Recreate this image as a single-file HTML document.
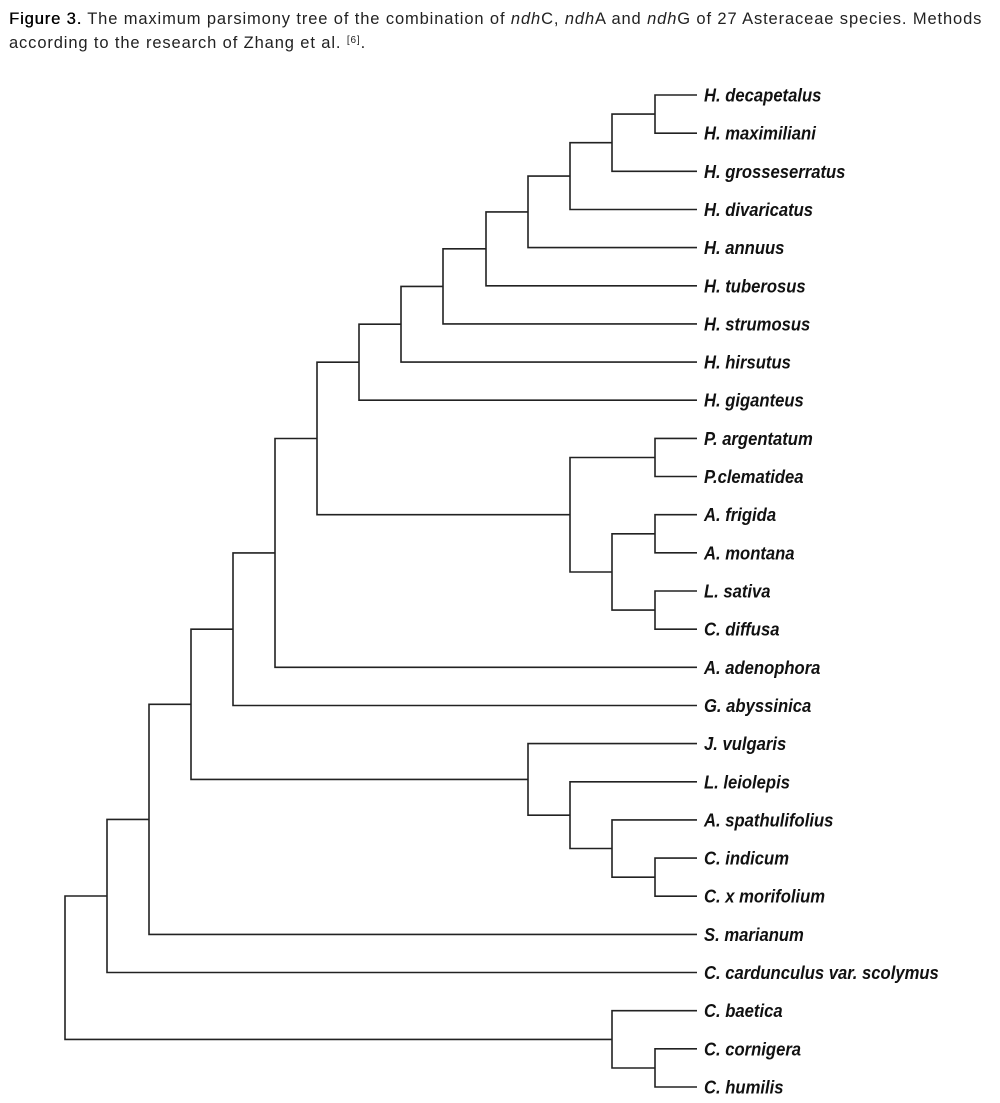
<!DOCTYPE html>
<html><head><meta charset="utf-8"><style>
html,body{margin:0;padding:0;background:#fff;}
body{width:1000px;height:1103px;position:relative;overflow:hidden;}
.cap{position:absolute;left:9px;top:9px;width:990px;white-space:nowrap;font-family:"Liberation Sans",sans-serif;font-size:16.5px;letter-spacing:0.88px;line-height:21px;color:#222;}
.cap b{font-weight:normal;color:#000;text-shadow:0.4px 0 0 #000;}
sup{font-size:10px;vertical-align:5px;}
svg{position:absolute;left:0;top:0;}
</style></head><body>
<div class="cap"><b>Figure 3.</b> The maximum parsimony tree of the combination of <i>ndh</i>C, <i>ndh</i>A and <i>ndh</i>G of 27 Asteraceae species. Methods<br>according to the research of Zhang et al. <sup>[6]</sup>.</div>
<svg width="1000" height="1103" viewBox="0 0 1000 1103">
<g fill="none" stroke="#222" stroke-width="1.6">
<path d="M697 95H655V133.2H697"/>
<path d="M655 114.1H612V171.3H697"/>
<path d="M612 142.7H570V209.5H697"/>
<path d="M570 176.1H528V247.6H697"/>
<path d="M528 211.9H486V285.8H697"/>
<path d="M486 248.8H443V323.9H697"/>
<path d="M443 286.4H401V362.1H697"/>
<path d="M401 324.2H359V400.2H697"/>
<path d="M697 438.4H655V476.5H697"/>
<path d="M697 514.7H655V552.8H697"/>
<path d="M697 591H655V629.2H697"/>
<path d="M655 533.8H612V610.1H655"/>
<path d="M655 457.5H570V572H612"/>
<path d="M359 362.2H317V514.7H570"/>
<path d="M317 438.5H275V667.3H697"/>
<path d="M275 552.9H233V705.5H697"/>
<path d="M697 858.1H655V896.2H697"/>
<path d="M697 819.9H612V877.2H655"/>
<path d="M697 781.8H570V848.5H612"/>
<path d="M697 743.6H528V815.2H570"/>
<path d="M233 629.2H191V779.4H528"/>
<path d="M191 704.3H149V934.4H697"/>
<path d="M149 819.4H107V972.5H697"/>
<path d="M697 1048.8H655V1087H697"/>
<path d="M697 1010.7H612V1068H655"/>
<path d="M107 896H65V1039.4H612"/>
</g>
<g font-family="Liberation Sans, sans-serif" font-size="18.5" font-weight="bold" font-style="italic" fill="#111" transform="translate(704,0) scale(0.9,1)">
<text x="0" y="101.5">H. decapetalus</text>
<text x="0" y="139.7">H. maximiliani</text>
<text x="0" y="177.8">H. grosseserratus</text>
<text x="0" y="216">H. divaricatus</text>
<text x="0" y="254.1">H. annuus</text>
<text x="0" y="292.3">H. tuberosus</text>
<text x="0" y="330.4">H. strumosus</text>
<text x="0" y="368.6">H. hirsutus</text>
<text x="0" y="406.7">H. giganteus</text>
<text x="0" y="444.9">P. argentatum</text>
<text x="0" y="483">P.clematidea</text>
<text x="0" y="521.2">A. frigida</text>
<text x="0" y="559.3">A. montana</text>
<text x="0" y="597.5">L. sativa</text>
<text x="0" y="635.7">C. diffusa</text>
<text x="0" y="673.8">A. adenophora</text>
<text x="0" y="712">G. abyssinica</text>
<text x="0" y="750.1">J. vulgaris</text>
<text x="0" y="788.3">L. leiolepis</text>
<text x="0" y="826.4">A. spathulifolius</text>
<text x="0" y="864.6">C. indicum</text>
<text x="0" y="902.7">C. x morifolium</text>
<text x="0" y="940.9">S. marianum</text>
<text x="0" y="979">C. cardunculus var. scolymus</text>
<text x="0" y="1017.2">C. baetica</text>
<text x="0" y="1055.3">C. cornigera</text>
<text x="0" y="1093.5">C. humilis</text>
</g>
</svg>
</body></html>
